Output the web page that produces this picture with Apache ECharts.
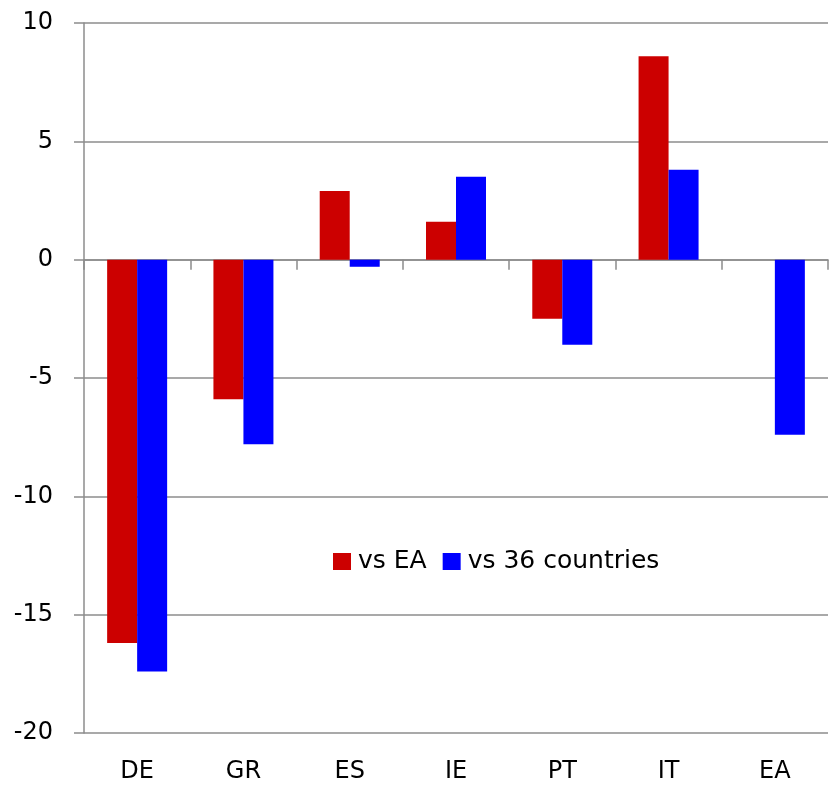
<!DOCTYPE html>
<html>
<head>
<meta charset="utf-8">
<script src="https://cdn.jsdelivr.net/npm/echarts@6/dist/echarts.min.js"></script>
<style>
html,body{margin:0;padding:0;background:#fff;}
#chart{width:830px;height:786px;}
</style>
</head>
<body>
<div id="chart"></div>
<script>
const categories = ['DE', 'GR', 'ES', 'IE', 'PT', 'IT', 'EA'];
const seriesNames = ['vs EA', 'vs 36 countries'];
const vsEA = [-16.2, -5.9, 2.9, 1.6, -2.5, 8.6, null];
const vs36 = [-17.4, -7.8, -0.3, 3.5, -3.6, 3.8, -7.4];

const FONT = 'DejaVu Sans';
const GRID_COLOR = '#8c8c8c';

const chart = echarts.init(document.getElementById('chart'), null, {renderer: 'canvas'});
chart.setOption({
  animation: false,
  backgroundColor: '#ffffff',
  textStyle: {fontFamily: FONT},
  legend: {
    data: seriesNames,
    left: 328,
    top: 544,
    icon: 'rect',
    itemWidth: 18,
    itemHeight: 17,
    itemGap: 16,
    selectedMode: false,
    textStyle: {fontSize: 25, color: '#000', fontFamily: FONT, padding: [0, 0, 0, 2]}
  },
  grid: {left: 84, right: 2, top: 23, bottom: 53, containLabel: false},
  xAxis: [
    {
      type: 'category',
      data: categories,
      position: 'bottom',
      axisLine: {show: false, onZero: false},
      axisTick: {show: false},
      axisLabel: {fontSize: 24, color: '#000', fontFamily: FONT, margin: 27},
      splitLine: {show: false}
    },
    {
      type: 'category',
      data: categories,
      position: 'top',
      axisLine: {show: true, onZero: true, lineStyle: {color: GRID_COLOR, width: 1.5}},
      axisTick: {show: true, inside: true, length: 10, lineStyle: {color: GRID_COLOR, width: 1.5}},
      axisLabel: {show: false},
      splitLine: {show: false}
    }
  ],
  yAxis: {
    type: 'value',
    min: -20,
    max: 10,
    interval: 5,
    axisLine: {show: true, lineStyle: {color: GRID_COLOR, width: 1.5}},
    axisTick: {show: true, length: 10, lineStyle: {color: GRID_COLOR, width: 1.5}},
    axisLabel: {fontSize: 24, color: '#000', fontFamily: FONT, margin: 31},
    splitLine: {show: true, lineStyle: {color: GRID_COLOR, width: 1.5}}
  },
  series: [
    {
      name: seriesNames[0],
      type: 'bar',
      xAxisIndex: 0,
      data: vsEA,
      barWidth: 30,
      barGap: '0%',
      itemStyle: {color: '#cc0000'}
    },
    {
      name: seriesNames[1],
      type: 'bar',
      xAxisIndex: 0,
      data: vs36,
      barWidth: 30,
      barGap: '0%',
      itemStyle: {color: '#0000ff'}
    }
  ]
});
</script>
</body>
</html>
